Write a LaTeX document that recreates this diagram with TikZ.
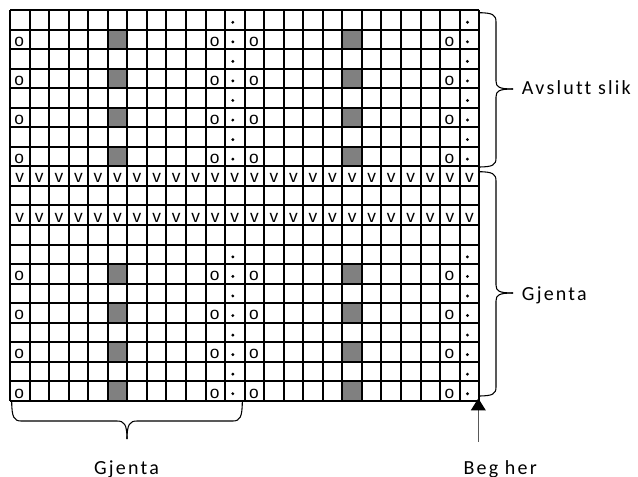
\documentclass[tikz,border=0pt]{standalone}
\usepackage{fontspec}
\setmainfont{Liberation Sans}
\newfontfamily\lblfont[LetterSpace=11,Ligatures={NoCommon}]{Carlito}
\usetikzlibrary{arrows.meta}
\begin{document}
\begin{tikzpicture}[x=0.75pt,y=-0.75pt,
  gridline/.style={line width=1.5pt, black},
  greycell/.style={fill=gray},
  sym/.style={font=\fontsize{13}{13}\selectfont, anchor=base, inner sep=0pt},
  dotmark/.style={fill=black},
  lbl/.style={font=\lblfont\fontsize{15}{15}\selectfont, inner sep=0pt, anchor=base west},
  bracel/.style={line width=0.8pt, black},
  pointer/.style={line width=1pt, gray!70!black, -{Triangle[width=11pt,length=9pt,color=black]}}]
\useasboundingbox (0,0) rectangle (638,477);
\def\cs{19.55}
% grey cells
\foreach \r in {2,4,6,8,14,16,18,20} {
  \foreach \c in {6,18} {
    \fill[greycell] ({10+(\c-1)*\cs},{10+(\r-1)*\cs}) rectangle ++(\cs,\cs);
  }
}
% grid lines
\foreach \i in {0,...,24} \draw[gridline] ({10+\i*\cs},10) -- ({10+\i*\cs},{10+20*\cs});
\foreach \j in {0,...,20} \draw[gridline] (10,{10+\j*\cs}) -- ({10+24*\cs},{10+\j*\cs});
% o symbols
\foreach \r in {2,4,6,8,14,16,18,20} {
  \foreach \c in {1,11,13,23} {
    \node[sym] (o-\r-\c) at ({10+(\c-0.5)*\cs-0.5},{10+\r*\cs-3}) {o};
  }
}
% dots
\foreach \r in {1,...,8,13,14,...,20} {
  \foreach \c in {12,24} {
    \fill[dotmark] ({10+(\c-0.5)*\cs-2},{10+(\r-0.5)*\cs+2.5}) circle (1.6);
  }
}
% v rows
\foreach \r in {9,11} {
  \foreach \c in {1,...,24} {
    \node[sym] (v-\r-\c) at ({10+(\c-0.5)*\cs},{10+\r*\cs-3}) {v};
  }
}
% right brace: Avslutt slik
\draw[bracel] (478,12.7) .. controls (493,12.7) and (496,15) .. (496,22) -- (496,81) .. controls (496,87) and (499,89) .. (513,89);
\draw[bracel] (513,89) .. controls (499,89) and (496,91) .. (496,97) -- (496,158) .. controls (496,165) and (493,167) .. (478,167);
% right brace: Gjenta
\draw[bracel] (478,171.7) .. controls (493,171.7) and (496,174) .. (496,181) -- (496,285) .. controls (496,291) and (499,293) .. (513,293);
\draw[bracel] (513,293) .. controls (499,293) and (496,295) .. (496,301) -- (496,387) .. controls (496,394) and (493,396) .. (478,396);
% bottom brace
\draw[bracel] (11.7,401) .. controls (11.7,417) and (14,421) .. (21,421) -- (117,421) .. controls (124,421) and (127,424) .. (127,439);
\draw[bracel] (127,439) .. controls (127,424) and (130,421) .. (137,421) -- (233,421) .. controls (240,421) and (242.3,417) .. (242.3,401);
% labels
\node[lbl] (avs) at (521.7,95) {Avslutt slik};
\node[lbl] (gjr) at (521.7,300) {Gjenta};
\node[lbl, anchor=base] (gjb) at (126.5,474) {Gjenta};
\node[lbl] (beg) at (463.3,474) {Beg her};
% arrow
\coordinate (arrstart) at (478.3,441.7);
\coordinate (corner) at (478.3,398.3);
\draw[pointer] (arrstart) -- (corner);
\end{tikzpicture}
\end{document}
